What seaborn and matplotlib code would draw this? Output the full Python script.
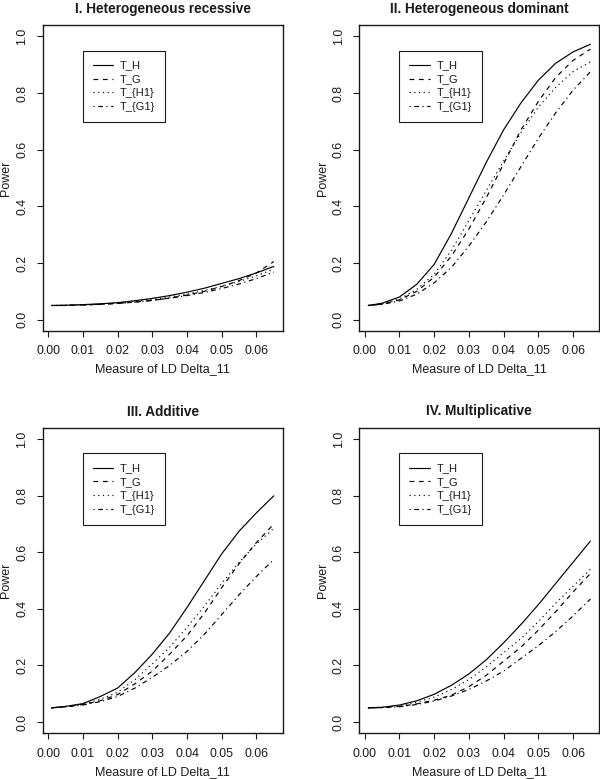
import matplotlib
matplotlib.use("Agg")
import matplotlib.pyplot as plt
import pandas as pd
import seaborn as sns

# ---------------- data ----------------
delta = [0.001, 0.005, 0.010, 0.015, 0.020, 0.025, 0.030,
         0.035, 0.040, 0.045, 0.050, 0.055, 0.060, 0.065]
series_names = ["T_H", "T_G", "T_{H1}", "T_{G1}"]
panel_titles = ["I. Heterogeneous recessive", "II. Heterogeneous dominant",
                "III. Additive", "IV. Multiplicative"]
x_ticks = [0.00, 0.01, 0.02, 0.03, 0.04, 0.05, 0.06]
y_ticks = [0.0, 0.2, 0.4, 0.6, 0.8, 1.0]

# I. Heterogeneous recessive
rec_TH  = [0.050, 0.051, 0.053, 0.056, 0.060, 0.067, 0.075, 0.085, 0.097, 0.111, 0.128, 0.145, 0.165, 0.188]
rec_TG  = [0.050, 0.050, 0.052, 0.054, 0.057, 0.062, 0.068, 0.076, 0.087, 0.100, 0.117, 0.138, 0.165, 0.205]
rec_TH1 = [0.050, 0.051, 0.052, 0.055, 0.059, 0.065, 0.072, 0.080, 0.090, 0.103, 0.118, 0.135, 0.155, 0.178]
rec_TG1 = [0.050, 0.050, 0.052, 0.054, 0.058, 0.062, 0.068, 0.076, 0.085, 0.096, 0.110, 0.126, 0.145, 0.168]

# II. Heterogeneous dominant
dom_TH  = [0.050, 0.058, 0.080, 0.125, 0.195, 0.305, 0.430, 0.555, 0.670, 0.765, 0.845, 0.905, 0.945, 0.972]
dom_TG  = [0.050, 0.055, 0.070, 0.100, 0.150, 0.225, 0.320, 0.430, 0.550, 0.670, 0.770, 0.855, 0.915, 0.955]
dom_TH1 = [0.050, 0.056, 0.073, 0.107, 0.160, 0.245, 0.350, 0.455, 0.560, 0.660, 0.750, 0.820, 0.875, 0.910]
dom_TG1 = [0.050, 0.054, 0.066, 0.090, 0.130, 0.185, 0.260, 0.345, 0.440, 0.540, 0.640, 0.730, 0.810, 0.875]

# III. Additive
add_TH  = [0.050, 0.055, 0.065, 0.090, 0.120, 0.175, 0.240, 0.315, 0.405, 0.500, 0.595, 0.675, 0.740, 0.800]
add_TG  = [0.050, 0.054, 0.062, 0.075, 0.097, 0.135, 0.180, 0.240, 0.305, 0.385, 0.475, 0.560, 0.635, 0.700]
add_TH1 = [0.050, 0.055, 0.063, 0.080, 0.105, 0.150, 0.205, 0.265, 0.335, 0.410, 0.490, 0.565, 0.630, 0.685]
add_TG1 = [0.050, 0.054, 0.060, 0.072, 0.090, 0.120, 0.158, 0.200, 0.250, 0.310, 0.380, 0.450, 0.515, 0.575]

# IV. Multiplicative
mul_TH  = [0.050, 0.052, 0.060, 0.075, 0.098, 0.130, 0.170, 0.220, 0.280, 0.345, 0.415, 0.490, 0.565, 0.640]
mul_TG  = [0.050, 0.051, 0.055, 0.064, 0.077, 0.095, 0.125, 0.165, 0.215, 0.265, 0.325, 0.390, 0.460, 0.525]
mul_TH1 = [0.050, 0.052, 0.058, 0.070, 0.088, 0.115, 0.150, 0.195, 0.245, 0.295, 0.355, 0.420, 0.480, 0.540]
mul_TG1 = [0.050, 0.051, 0.054, 0.062, 0.074, 0.092, 0.115, 0.145, 0.180, 0.225, 0.270, 0.320, 0.375, 0.435]

panels = [
    [rec_TH, rec_TG, rec_TH1, rec_TG1],
    [dom_TH, dom_TG, dom_TH1, dom_TG1],
    [add_TH, add_TG, add_TH1, add_TG1],
    [mul_TH, mul_TG, mul_TH1, mul_TG1],
]

# ---------------- styling ----------------
sns.set_theme(style="ticks")
plt.rcParams["font.family"] = ["Liberation Sans", "DejaVu Sans"]
plt.rcParams["axes.linewidth"] = 1.0

INK = "#1a1a1a"
dash_map = {"T_H": "", "T_G": (4, 4), "T_{H1}": (1, 3), "T_{G1}": (1, 3, 4, 3)}

W, H = 600, 779
fig = plt.figure(figsize=(W / 100, H / 100), dpi=100)

# axes boxes in pixels (left, top, right, bottom)
boxes = [(42.7, 25, 282.7, 331), (359.3, 25, 599.3, 331),
         (42.7, 428, 282.7, 733.3), (359.3, 428, 599.3, 733.3)]

for i, (box, series) in enumerate(zip(boxes, panels)):
    l, t, r, b = box
    ax = fig.add_axes([l / W, (H - b) / H, (r - l) / W, (b - t) / H])
    rows = []
    for name, vals in zip(series_names, series):
        for xv, yv in zip(delta, vals):
            rows.append({"delta": xv, "power": yv, "test": name})
    df = pd.DataFrame(rows)
    sns.lineplot(data=df, x="delta", y="power", style="test",
                 style_order=series_names, dashes=dash_map,
                 color="black", linewidth=0.85, estimator=None,
                 legend=False, ax=ax)

    ax.set_xlim(-0.00156, 0.06756)
    ax.set_ylim(-0.04, 1.04)
    ax.set_xticks(x_ticks)
    ax.set_xticklabels([f"{v:.2f}" for v in x_ticks])
    ax.set_yticks(y_ticks)
    ax.set_yticklabels([f"{v:.1f}" for v in y_ticks], rotation=90, va="center")
    ax.tick_params(axis="both", direction="out", length=4.3, width=0.8,
                   pad=6, labelsize=8.9, colors=INK)
    for s in ax.spines.values():
        s.set_color(INK)
        s.set_linewidth(1.0)
        s.set_visible(True)

    ax.set_title(panel_titles[i], fontsize=9.8, fontweight="bold",
                 color=INK, pad=9)
    ax.set_xlabel("Measure of LD Delta_11", fontsize=9, color=INK, va="center")
    ax.set_ylabel("Power", fontsize=9, color=INK, va="center")
    ax.xaxis.set_label_coords(0.5, -0.126)
    ax.yaxis.set_label_coords(-0.153, 0.5)

    leg = ax.legend(handles=ax.lines[:4], labels=series_names,
                    loc="upper left", bbox_to_anchor=(0.01, 0.95),
                    bbox_transform=ax.transData, frameon=True,
                    fancybox=False, framealpha=1, edgecolor=INK,
                    fontsize=8, handlelength=1.85, handletextpad=0.6,
                    labelspacing=0.35, borderpad=0.9, borderaxespad=0)
    leg.get_frame().set_linewidth(0.8)
    for txt in leg.get_texts():
        txt.set_color(INK)

fig.savefig("out.png", dpi=100, facecolor="white")
